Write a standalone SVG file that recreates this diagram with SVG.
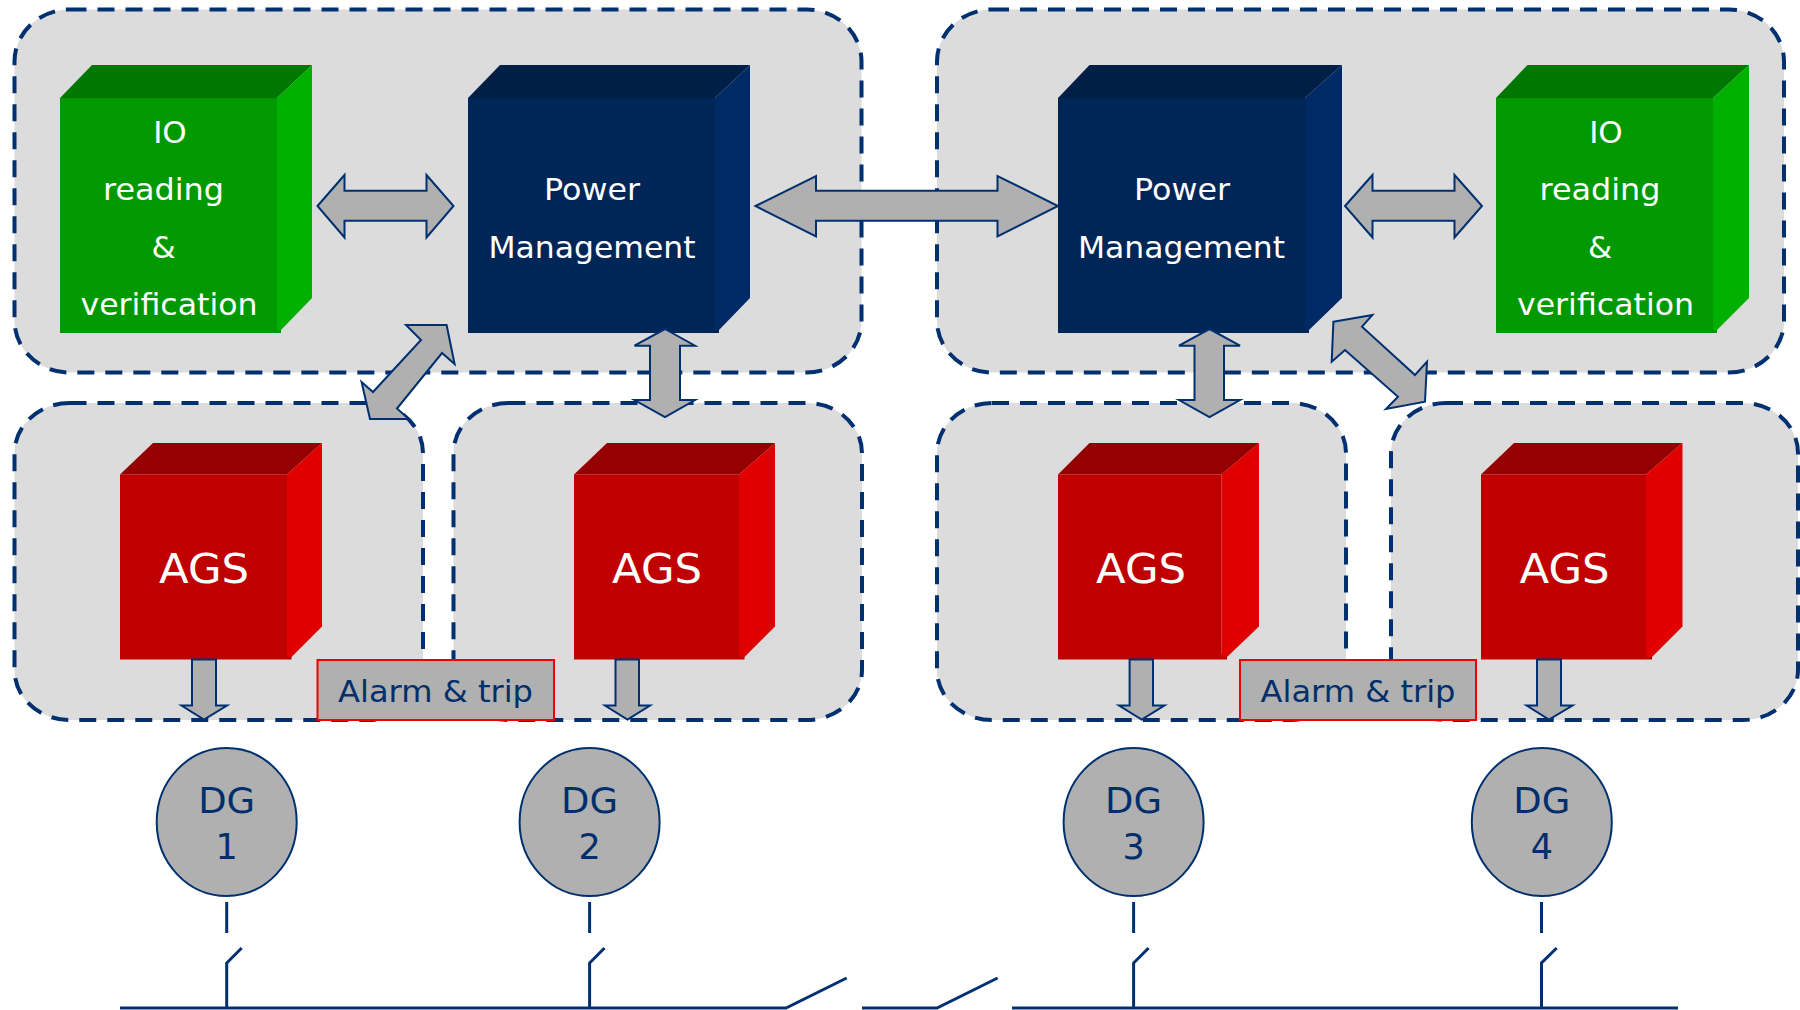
<svg xmlns="http://www.w3.org/2000/svg" width="1800" height="1010" viewBox="0 0 1800 1010">
<style>
text{font-family:"DejaVu Sans","Liberation Sans",sans-serif;text-anchor:middle}
.zone{fill:#dcdcdc;stroke:#003070;stroke-width:4;stroke-dasharray:17 11}
.w{fill:#fff;font-size:31px}
.ags{fill:#fff;font-size:40px}
.n{fill:#002f6c}
.arr{fill:#b0b0b0;stroke:#003070;stroke-width:2;stroke-linejoin:miter}
.line{fill:none;stroke:#003070;stroke-width:3}
.alarm{fill:#b0b0b0;stroke:#f00000;stroke-width:2}
.dg{fill:#b0b0b0;stroke:#003070;stroke-width:2}
.gf{fill:#009900}.gt{fill:#007700}.gs{fill:#00b000}
.bf{fill:#002557}.bt{fill:#001f47}.bs{fill:#002a66}
.rf{fill:#c00000}.rt{fill:#950000}.rs{fill:#e00000}
</style>
<g id="zones">
<rect id="zone-top-left" class="zone" x="14.5" y="9.5" width="847" height="363" rx="55" ry="52"/>
<rect id="zone-top-right" class="zone" x="937" y="9.5" width="847" height="363" rx="55" ry="52"/>
<rect id="zone-ags-1" class="zone" x="14.5" y="403" width="408.5" height="317" rx="55" ry="50"/>
<rect id="zone-ags-2" class="zone" x="453.5" y="403" width="408.5" height="317" rx="55" ry="50"/>
<rect id="zone-ags-3" class="zone" x="937" y="403" width="409" height="317" rx="55" ry="50"/>
<rect id="zone-ags-4" class="zone" x="1391" y="403" width="407" height="317" rx="55" ry="50"/>
</g>
<g id="io-left">
<polygon class="gf" points="60,98 277,98 277,326 281,326 281,333 60,333"/>
<polygon class="gt" points="60,98 92,65 312,65 277,98"/>
<polygon class="gs" points="277,98 312,65 312,298 281,330 277,330"/>
<text class="w" x="170" y="143">IO</text>
<text class="w" x="163.5" y="200" textLength="121" lengthAdjust="spacingAndGlyphs">reading</text>
<text class="w" x="163.5" y="258">&amp;</text>
<text class="w" x="169" y="315" textLength="177" lengthAdjust="spacingAndGlyphs">verification</text>
</g>
<g id="pm-left">
<polygon class="bf" points="468,98 715,98 715,326 719,326 719,333 468,333"/>
<polygon class="bt" points="468,98 500,65 750,65 715,98"/>
<polygon class="bs" points="715,98 750,65 750,298 719,330 715,330"/>
<text class="w" x="592" y="200" textLength="96" lengthAdjust="spacingAndGlyphs">Power</text>
<text class="w" x="592" y="258" textLength="207" lengthAdjust="spacingAndGlyphs">Management</text>
</g>
<g id="pm-right">
<polygon class="bf" points="1058,98 1305,98 1305,326 1309,326 1309,333 1058,333"/>
<polygon class="bt" points="1058,98 1089.5,65 1342,65 1305,98"/>
<polygon class="bs" points="1305,98 1342,65 1342,298 1309,330 1305,330"/>
<text class="w" x="1182" y="200" textLength="96" lengthAdjust="spacingAndGlyphs">Power</text>
<text class="w" x="1181.5" y="258" textLength="207" lengthAdjust="spacingAndGlyphs">Management</text>
</g>
<g id="io-right">
<polygon class="gf" points="1496,98 1713,98 1713,326 1717,326 1717,333 1496,333"/>
<polygon class="gt" points="1496,98 1527.5,65 1749,65 1713,98"/>
<polygon class="gs" points="1713,98 1749,65 1749,298 1717,330 1713,330"/>
<text class="w" x="1606" y="143">IO</text>
<text class="w" x="1600" y="200" textLength="121" lengthAdjust="spacingAndGlyphs">reading</text>
<text class="w" x="1600" y="258">&amp;</text>
<text class="w" x="1605.5" y="315" textLength="177" lengthAdjust="spacingAndGlyphs">verification</text>
</g>
<g id="ags-1">
<polygon class="rf" points="120,474.5 287,474.5 287,654 291.5,654 291.5,659.5 120,659.5"/>
<polygon class="rt" points="120,474.5 153,443 322,443 287,474.5"/>
<polygon class="rs" points="287,474.5 322,443 322,626.5 291.5,657 287,657"/>
<text class="ags" x="204" y="583" textLength="90" lengthAdjust="spacingAndGlyphs">AGS</text>
</g>
<g id="ags-2">
<polygon class="rf" points="574,474.5 739,474.5 739,654 744.5,654 744.5,659.5 574,659.5"/>
<polygon class="rt" points="574,474.5 607,443 775,443 739,474.5"/>
<polygon class="rs" points="739,474.5 775,443 775,626.5 744.5,657 739,657"/>
<text class="ags" x="657" y="583" textLength="90" lengthAdjust="spacingAndGlyphs">AGS</text>
</g>
<g id="ags-3">
<polygon class="rf" points="1058,474.5 1221.5,474.5 1221.5,654 1227,654 1227,659.5 1058,659.5"/>
<polygon class="rt" points="1058,474.5 1089.5,443 1259,443 1221.5,474.5"/>
<polygon class="rs" points="1221.5,474.5 1259,443 1259,626.5 1227,657 1221.5,657"/>
<text class="ags" x="1141" y="583" textLength="90" lengthAdjust="spacingAndGlyphs">AGS</text>
</g>
<g id="ags-4">
<polygon class="rf" points="1481,474.5 1646,474.5 1646,654 1652,654 1652,659.5 1481,659.5"/>
<polygon class="rt" points="1481,474.5 1514,443 1682.5,443 1646,474.5"/>
<polygon class="rs" points="1646,474.5 1682.5,443 1682.5,626.5 1652,657 1646,657"/>
<text class="ags" x="1564.5" y="583" textLength="90" lengthAdjust="spacingAndGlyphs">AGS</text>
</g>
<g id="connectors">
<polygon class="arr" points="317.5,206 344.5,175 344.5,190.7 426.5,190.7 426.5,175 453.5,206 426.5,237.5 426.5,220.7 344.5,220.7 344.5,237.5"/>
<polygon class="arr" points="755.5,206 816,176 816,190.7 997.5,190.7 997.5,176 1058,206 997.5,236.5 997.5,220.7 816,220.7 816,236.5"/>
<polygon class="arr" points="1345,206 1372.5,175 1372.5,190.7 1454.5,190.7 1454.5,175 1482,206 1454.5,237.5 1454.5,220.7 1372.5,220.7 1372.5,237.5"/>
<polygon class="arr" points="665,329 695,345.7 680,345.7 680,400 695,400 665,417 634.5,400 650,400 650,345.7 634.5,345.7"/>
<polygon class="arr" points="1209.5,329 1240,345.7 1224,345.7 1224,400 1240,400 1209.5,417 1179,400 1194.5,400 1194.5,345.7 1179,345.7"/>
<polygon class="arr" points="446.6,325 454.6,364 442,353 397,408.5 408.7,419 370,419 361.6,382 373,392 421,340 406,325"/>
<polygon class="arr" points="1333.4,321.7 1372.4,315 1362,326.7 1415,375 1427,361.7 1425,401.7 1386,409 1398,396.7 1345,350 1331.7,361.7"/>
<polygon class="arr" points="192,659.5 216,659.5 216,705.5 227,705.5 204,719.5 181.5,705.5 192,705.5"/>
<polygon class="arr" points="615.5,659.5 639,659.5 639,705.5 650,705.5 627.5,719.5 605,705.5 615.5,705.5"/>
<polygon class="arr" points="1129.6,659.5 1153,659.5 1153,705.5 1164.4,705.5 1141.7,719.5 1119,705.5 1129.6,705.5"/>
<polygon class="arr" points="1537,659.5 1561,659.5 1561,705.5 1572.5,705.5 1549,719.5 1526.6,705.5 1537,705.5"/>
<path class="line" d="M226.7 902V933M589.6 902V933M1133.6 902V933M1541.5 902V933"/>
<path class="line" d="M120 1008H786L846.7 978M862 1008H937L997.6 978M1012 1008H1678"/>
<path class="line" d="M226.7 1008V963L241.7 948M589.6 1008V963L604.5 948M1133.6 1008V963L1148.6 948M1541.5 1008V963L1556.7 948"/>
</g>
<g id="alarm-left">
<rect class="alarm" x="317.5" y="660" width="236.5" height="60"/>
<text class="n" x="435.5" y="702" font-size="30" textLength="195" lengthAdjust="spacingAndGlyphs">Alarm &amp; trip</text>
</g>
<g id="alarm-right">
<rect class="alarm" x="1240" y="660" width="236" height="60"/>
<text class="n" x="1358" y="702" font-size="30" textLength="195" lengthAdjust="spacingAndGlyphs">Alarm &amp; trip</text>
</g>
<g id="dg-1"><ellipse class="dg" cx="226.7" cy="822" rx="70" ry="74"/><text class="n" x="226.7" y="813" font-size="35" textLength="57" lengthAdjust="spacingAndGlyphs">DG</text><text class="n" x="226.7" y="859" font-size="35">1</text></g>
<g id="dg-2"><ellipse class="dg" cx="589.6" cy="822" rx="70" ry="74"/><text class="n" x="589.6" y="813" font-size="35" textLength="57" lengthAdjust="spacingAndGlyphs">DG</text><text class="n" x="589.6" y="859" font-size="35">2</text></g>
<g id="dg-3"><ellipse class="dg" cx="1133.6" cy="822" rx="70" ry="74"/><text class="n" x="1133.6" y="813" font-size="35" textLength="57" lengthAdjust="spacingAndGlyphs">DG</text><text class="n" x="1133.6" y="859" font-size="35">3</text></g>
<g id="dg-4"><ellipse class="dg" cx="1541.8" cy="822" rx="70" ry="74"/><text class="n" x="1541.8" y="813" font-size="35" textLength="57" lengthAdjust="spacingAndGlyphs">DG</text><text class="n" x="1541.8" y="859" font-size="35">4</text></g>
</svg>
